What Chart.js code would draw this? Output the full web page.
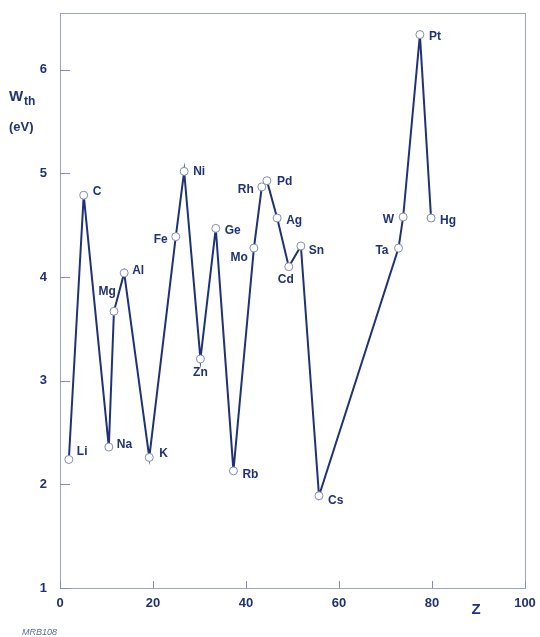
<!DOCTYPE html>
<html><head><meta charset="utf-8">
<script src="https://cdn.jsdelivr.net/npm/chart.js@4"></script>
<style>html,body{margin:0;padding:0;background:#fff}#w{width:540px;height:637px;position:relative}</style>
</head><body><div id="w"><canvas id="c"></canvas></div>
<script>
const elements = ['Li','C','Na','Mg','Al','K','Fe','Ni','Zn','Ge','Rb','Mo','Rh','Pd','Ag','Cd','Sn','Cs','Ta','W','Pt','Hg'];
const zValues  = [1.9, 5.1, 10.5, 11.6, 13.8, 19.2, 24.9, 26.7, 30.2, 33.5, 37.3, 41.7, 43.4, 44.5, 46.7, 49.2, 51.8, 55.7, 72.8, 73.8, 77.4, 79.8];
const wValues  = [2.24, 4.79, 2.36, 3.67, 4.04, 2.26, 4.39, 5.02, 3.21, 4.47, 2.13, 4.28, 4.87, 4.93, 4.57, 4.10, 4.30, 1.89, 4.28, 4.58, 6.34, 4.57];
const xTicks = [0, 20, 40, 60, 80, 100];
const yTicks = [1, 2, 3, 4, 5, 6];
// label placement (style only): dx, dy, align
const labelPos = {
  Li:[8,-8,'left'], C:[9,-4,'left'], Na:[8,-2,'left'], Mg:[2,-20,'right'], Al:[8,-2,'left'],
  K:[10,-4,'left'], Fe:[-8,3,'right'], Ni:[9,0,'left'], Zn:[0,14,'center'], Ge:[9,2,'left'],
  Rb:[9,4,'left'], Mo:[-6,10,'right'], Rh:[-8,3,'right'], Pd:[10,1,'left'], Ag:[9,3,'left'],
  Cd:[-3,13,'center'], Sn:[8,5,'left'], Cs:[9,5,'left'], Ta:[-10,3,'right'], W:[-9,3,'right'],
  Pt:[9,2,'left'], Hg:[9,3,'left']
};
const ink = '#1f3276';
const data = zValues.map((z,i)=>({x:z,y:wValues[i]}));

const deco = {
  id:'deco',
  afterDatasetsDraw(chart){
    const ctx = chart.ctx, a = chart.chartArea, xs = chart.scales.x, ys = chart.scales.y;
    ctx.save();
    ctx.strokeStyle = '#9aa7c4'; ctx.lineWidth = 1;
    ctx.strokeRect(Math.round(a.left)+0.5, Math.round(a.top)+0.5, Math.round(a.right-a.left), Math.round(a.bottom-a.top));
    ctx.strokeStyle = '#7f8db0';
    yTicks.forEach(v=>{ const y = Math.round(ys.getPixelForValue(v))+0.5;
      ctx.beginPath(); ctx.moveTo(a.left, y); ctx.lineTo(a.left+10, y); ctx.stroke(); });
    xTicks.forEach(v=>{ const x = Math.round(xs.getPixelForValue(v))+0.5;
      ctx.beginPath(); ctx.moveTo(x, a.bottom); ctx.lineTo(x, a.bottom-7); ctx.stroke(); });
    ctx.fillStyle = ink; ctx.font = 'bold 12px "Liberation Sans", Arial, sans-serif';
    ctx.textBaseline = 'middle';
    const meta = chart.getDatasetMeta(0);
    meta.data.forEach((pt,i)=>{
      const p = labelPos[elements[i]];
      ctx.textAlign = p[2];
      ctx.fillText(elements[i], pt.x + p[0], pt.y + p[1]);
    });
    ctx.textAlign = 'left'; ctx.textBaseline = 'alphabetic';
    ctx.font = 'bold 15px "Liberation Sans", Arial, sans-serif';
    ctx.fillText('W', 9, 101);
    ctx.font = 'bold 12px "Liberation Sans", Arial, sans-serif';
    ctx.fillText('th', 24, 105);
    ctx.font = 'bold 13px "Liberation Sans", Arial, sans-serif';
    ctx.fillText('(eV)', 9, 131);
    ctx.font = 'bold 15px "Liberation Sans", Arial, sans-serif';
    ctx.textAlign = 'center';
    ctx.fillText('Z', 476, 614);
    ctx.font = 'italic 9px "Liberation Sans", Arial, sans-serif';
    ctx.fillStyle = '#5b6a94'; ctx.textAlign = 'left';
    ctx.fillText('MRB108', 22, 635);
    ctx.restore();
  }
};

new Chart(document.getElementById('c'), {
  type:'line',
  data:{ datasets:[{ data, borderColor:ink, borderWidth:2, tension:0,
    pointRadius:4, pointBackgroundColor:'#ffffff', pointBorderColor:'#7f8db0', pointBorderWidth:1 }]},
  options:{
    responsive:true, maintainAspectRatio:false, animation:false,
    layout:{ padding:{ top:8, right:15, left:0, bottom:0 } },
    plugins:{ legend:{display:false}, tooltip:{enabled:false} },
    scales:{
      x:{ type:'linear', min:0, max:100,
        afterBuildTicks(s){ s.ticks = xTicks.map(v=>({value:v})); },
        afterFit(s){ s.height = 49; },
        grid:{display:false}, border:{display:false},
        ticks:{ color:ink, padding:0, maxRotation:0, font:{family:'"Liberation Sans", Arial, sans-serif', size:13, weight:'bold'} } },
      y:{ type:'linear', min:1, max:6.55,
        afterBuildTicks(s){ s.ticks = yTicks.map(v=>({value:v})); },
        afterFit(s){ s.width = 60; },
        grid:{display:false}, border:{display:false},
        ticks:{ color:ink, padding:5, font:{family:'"Liberation Sans", Arial, sans-serif', size:13, weight:'bold'} } }
    }
  },
  plugins:[deco]
});
</script></body></html>
